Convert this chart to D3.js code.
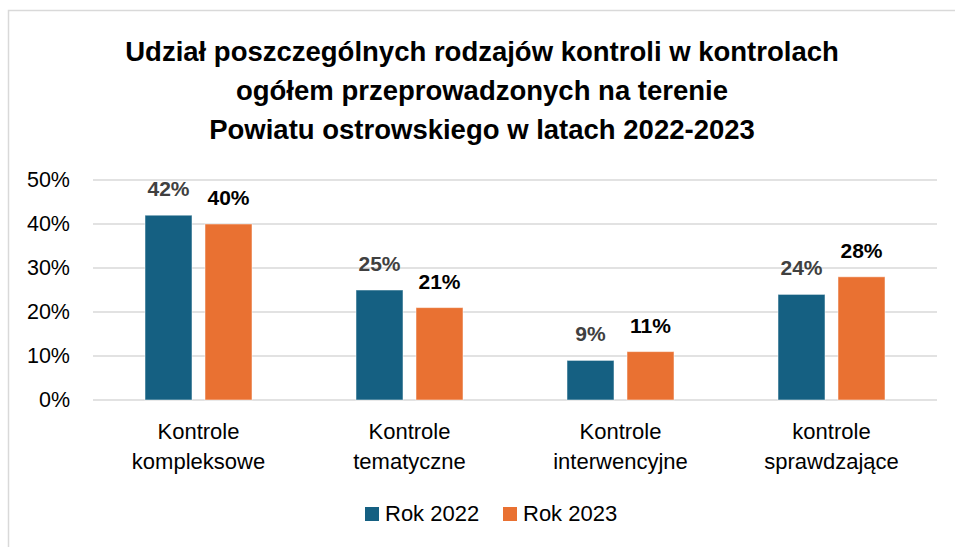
<!DOCTYPE html>
<html>
<head>
<meta charset="utf-8">
<script src="https://cdn.jsdelivr.net/npm/d3@7"></script>
<style>
  body { margin: 0; background: #fff; }
  svg { display: block; }
</style>
</head>
<body>
<script>
var titleLines = ["Udział poszczególnych rodzajów kontroli w kontrolach",
                  "ogółem przeprowadzonych na terenie",
                  "Powiatu ostrowskiego w latach 2022-2023"];
var categories = [["Kontrole", "kompleksowe"], ["Kontrole", "tematyczne"],
                  ["Kontrole", "interwencyjne"], ["kontrole", "sprawdzające"]];
var seriesNames = ["Rok 2022", "Rok 2023"];
var values2022 = [42, 25, 9, 24];
var values2023 = [40, 21, 11, 28];
var yTicks = [0, 10, 20, 30, 40, 50];

var colors = ["#156082", "#E97132"];
var labelColors = ["#404040", "#000000"];
var font = "Liberation Sans, Arial, sans-serif";

var width = 955, height = 547;
var plot = {left: 93, right: 937, top: 180, bottom: 400};

var svg = d3.select("body").append("svg").attr("width", width).attr("height", height);

// chart area border
svg.append("rect")
    .attr("x", 8.5).attr("y", 10.5)
    .attr("width", 1000).attr("height", 600)
    .attr("fill", "none")
    .attr("stroke", "#d9d9d9")
    .attr("stroke-width", 1.5);

// title
svg.append("g").selectAll("text")
    .data(titleLines)
    .enter().append("text")
    .attr("x", 482)
    .attr("y", function(d, i) { return 61 + i * 39; })
    .attr("text-anchor", "middle")
    .attr("font-family", font)
    .attr("font-weight", "bold")
    .attr("font-size", 27.5)
    .attr("fill", "#000")
    .text(function(d) { return d; });

var rows = categories.map(function(c, i) {
    return {key: i, label: c, vals: [values2022[i], values2023[i]]};
});

var x = d3.scaleBand().domain(d3.range(categories.length)).range([plot.left, plot.right]);
var xSub = d3.scaleBand().domain(d3.range(seriesNames.length)).range([0, 107]).paddingInner(13 / 60);
var y = d3.scaleLinear().domain([0, 50]).range([plot.bottom, plot.top]);

// gridlines
svg.append("g").selectAll("line")
    .data(yTicks)
    .enter().append("line")
    .attr("x1", plot.left).attr("x2", plot.right)
    .attr("y1", function(d) { return y(d); })
    .attr("y2", function(d) { return y(d); })
    .attr("stroke", "#d9d9d9")
    .attr("stroke-width", 1.5);

// y axis labels
var yAxis = d3.axisLeft(y).tickValues(yTicks).tickSize(0).tickPadding(0)
    .tickFormat(function(d) { return d + "%"; });
var yg = svg.append("g").attr("transform", "translate(70,0)").call(yAxis);
yg.select(".domain").remove();
yg.selectAll("text")
    .attr("font-family", font)
    .attr("font-size", 21.5)
    .attr("fill", "#000");

// bars
var groups = svg.append("g").selectAll("g")
    .data(rows)
    .enter().append("g")
    .attr("transform", function(d) { return "translate(" + (x(d.key) + (x.bandwidth() - 107) / 2) + ",0)"; });

groups.selectAll("rect")
    .data(function(d) { return d.vals; })
    .enter().append("rect")
    .attr("x", function(d, i) { return xSub(i); })
    .attr("width", xSub.bandwidth())
    .attr("y", function(d) { return y(d); })
    .attr("height", function(d) { return y(0) - y(d); })
    .attr("fill", function(d, i) { return colors[i]; })
    .attr("stroke", "#ffffff")
    .attr("stroke-opacity", 0.5)
    .attr("stroke-width", 1);

groups.selectAll("text.val")
    .data(function(d) { return d.vals; })
    .enter().append("text")
    .attr("class", "val")
    .attr("x", function(d, i) { return xSub(i) + xSub.bandwidth() / 2; })
    .attr("y", function(d) { return y(d) - 19; })
    .attr("text-anchor", "middle")
    .attr("font-family", font)
    .attr("font-weight", "bold")
    .attr("font-size", 21)
    .attr("fill", function(d, i) { return labelColors[i]; })
    .text(function(d) { return d + "%"; });

// category labels
var catText = svg.append("g").selectAll("text")
    .data(rows)
    .enter().append("text")
    .attr("x", function(d) { return x(d.key) + x.bandwidth() / 2; })
    .attr("y", 439)
    .attr("text-anchor", "middle")
    .attr("font-family", font)
    .attr("font-size", 22)
    .attr("fill", "#000");
catText.selectAll("tspan")
    .data(function(d) { return d.label; })
    .enter().append("tspan")
    .attr("x", function() { return d3.select(this.parentNode).attr("x"); })
    .attr("dy", function(d, i) { return i === 0 ? 0 : 30; })
    .text(function(d) { return d; });

// legend
var legendX = [365, 503];
var legend = svg.append("g").selectAll("g")
    .data(seriesNames)
    .enter().append("g")
    .attr("transform", function(d, i) { return "translate(" + legendX[i] + ",505)"; });
legend.append("rect")
    .attr("width", 14).attr("height", 14)
    .attr("y", 2)
    .attr("fill", function(d, i) { return colors[i]; });
legend.append("text")
    .attr("x", 20).attr("y", 16)
    .attr("font-family", font)
    .attr("font-size", 22)
    .attr("fill", "#000")
    .text(function(d) { return d; });
</script>
</body>
</html>
